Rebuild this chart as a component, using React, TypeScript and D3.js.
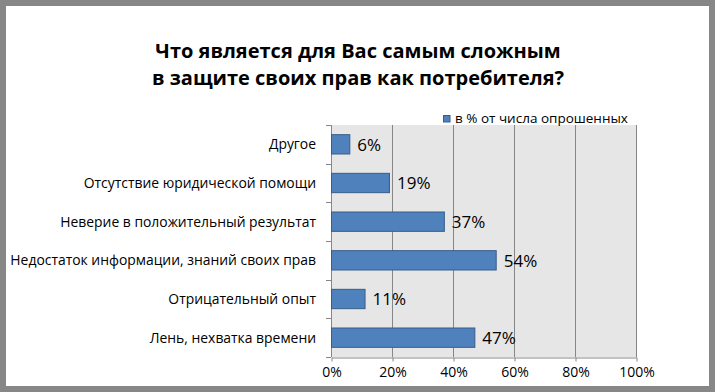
import React, { useEffect, useRef } from 'react';
import * as d3 from 'd3';

const categories = [
  'Другое',
  'Отсутствие юридической помощи',
  'Неверие в положительный результат',
  'Недостаток информации, знаний своих прав',
  'Отрицательный опыт',
  'Лень, нехватка времени',
];
const values = [0.06, 0.19, 0.37, 0.54, 0.11, 0.47];
const xTicks = [0, 0.2, 0.4, 0.6, 0.8, 1];
const titleLines = ['Что является для Вас самым сложным', 'в защите своих прав как потребителя?'];
const seriesName = 'в % от числа опрошенных';

const App = () => {
  const chartRef = useRef<SVGSVGElement>(null);
  const width = 715;
  const height = 392;

  useEffect(() => {
    document.body.style.margin = '0';
    const svg = d3.select(chartRef.current);
    svg.selectAll('*').remove();

    const font = "'Open Sans', 'Noto Sans', sans-serif";
    const marginLeft = 331;
    const marginRight = 79;
    const marginTop = 125;
    const marginBottom = 35;

    // frame
    svg.append('rect').attr('width', width).attr('height', height).attr('fill', '#878787');
    svg.append('rect').attr('x', 6).attr('y', 6).attr('width', 703).attr('height', 380).attr('fill', '#ffffff');

    const x = d3.scaleLinear().domain([0, 1]).range([marginLeft, width - marginRight]);
    const y = d3.scaleBand()
      .domain(categories)
      .range([marginTop, height - marginBottom])
      .paddingInner(0.5)
      .paddingOuter(0.25);

    // plot background
    svg.append('rect')
      .attr('x', x(0)).attr('y', marginTop)
      .attr('width', x(1) - x(0)).attr('height', height - marginBottom - marginTop)
      .attr('fill', '#e6e6e6');

    // grid
    svg.append('g')
      .selectAll('line')
      .data(xTicks.slice(1))
      .join('line')
      .attr('x1', d => x(d) + 0.5).attr('x2', d => x(d) + 0.5)
      .attr('y1', marginTop).attr('y2', height - marginBottom)
      .attr('stroke', '#868686');

    // x axis
    const xAxis = svg.append('g')
      .attr('transform', `translate(0.5,${height - marginBottom + 0.5})`)
      .call(d3.axisBottom(x).tickValues(xTicks).tickFormat(d3.format('.0%')).tickSize(4).tickPadding(6).tickSizeOuter(0));
    xAxis.select('.domain').attr('stroke', '#868686');
    xAxis.selectAll('.tick line').attr('stroke', '#868686');
    xAxis.selectAll('text').attr('font-family', font).attr('font-size', 14).attr('fill', '#000');

    // y axis
    const step = y.step();
    const bounds = d3.range(categories.length + 1).map(i => marginTop + i * step);
    svg.append('line')
      .attr('x1', x(0) + 0.5).attr('x2', x(0) + 0.5)
      .attr('y1', marginTop).attr('y2', height - marginBottom)
      .attr('stroke', '#868686');
    svg.append('g')
      .selectAll('line')
      .data(bounds)
      .join('line')
      .attr('x1', x(0) - 5).attr('x2', x(0))
      .attr('y1', d => Math.round(d) + 0.5).attr('y2', d => Math.round(d) + 0.5)
      .attr('stroke', '#868686');

    svg.append('g')
      .selectAll('text')
      .data(categories)
      .join('text')
      .attr('x', 316)
      .attr('y', d => y(d)! + y.bandwidth() / 2)
      .attr('dy', '0.35em')
      .attr('text-anchor', 'end')
      .attr('font-family', font)
      .attr('font-size', 13.9)
      .attr('fill', '#000')
      .text(d => d);

    // bars
    svg.append('g')
      .selectAll('rect')
      .data(values)
      .join('rect')
      .attr('x', x(0) + 0.5)
      .attr('y', (d, i) => y(categories[i])!)
      .attr('width', d => x(d) - x(0))
      .attr('height', y.bandwidth())
      .attr('fill', '#4f81bd')
      .attr('stroke', '#385d8a')
      .attr('stroke-width', 1);

    // data labels
    svg.append('g')
      .selectAll('text')
      .data(values)
      .join('text')
      .attr('x', d => x(d) + 8)
      .attr('y', (d, i) => y(categories[i])! + y.bandwidth() / 2)
      .attr('dy', '0.38em')
      .attr('font-family', font)
      .attr('font-size', 17)
      .attr('fill', '#000')
      .text(d => d3.format('.0%')(d));

    // legend
    svg.append('rect')
      .attr('x', 443.5).attr('y', 115.5).attr('width', 6.5).attr('height', 6.5)
      .attr('fill', '#4f81bd').attr('stroke', '#385d8a');
    svg.append('text')
      .attr('x', 455).attr('y', 123)
      .attr('font-family', font).attr('font-size', 13.5).attr('fill', '#000')
      .text(seriesName);

    // title
    svg.append('g')
      .selectAll('text')
      .data(titleLines)
      .join('text')
      .attr('x', 358)
      .attr('y', (d, i) => 58 + i * 27)
      .attr('text-anchor', 'middle')
      .attr('font-family', font)
      .attr('font-weight', 'bold')
      .attr('font-size', 20)
      .attr('fill', '#000')
      .text(d => d);
  }, []);

  return <svg ref={chartRef} width={width} height={height} style={{ display: 'block' }} />;
};

export default App;
